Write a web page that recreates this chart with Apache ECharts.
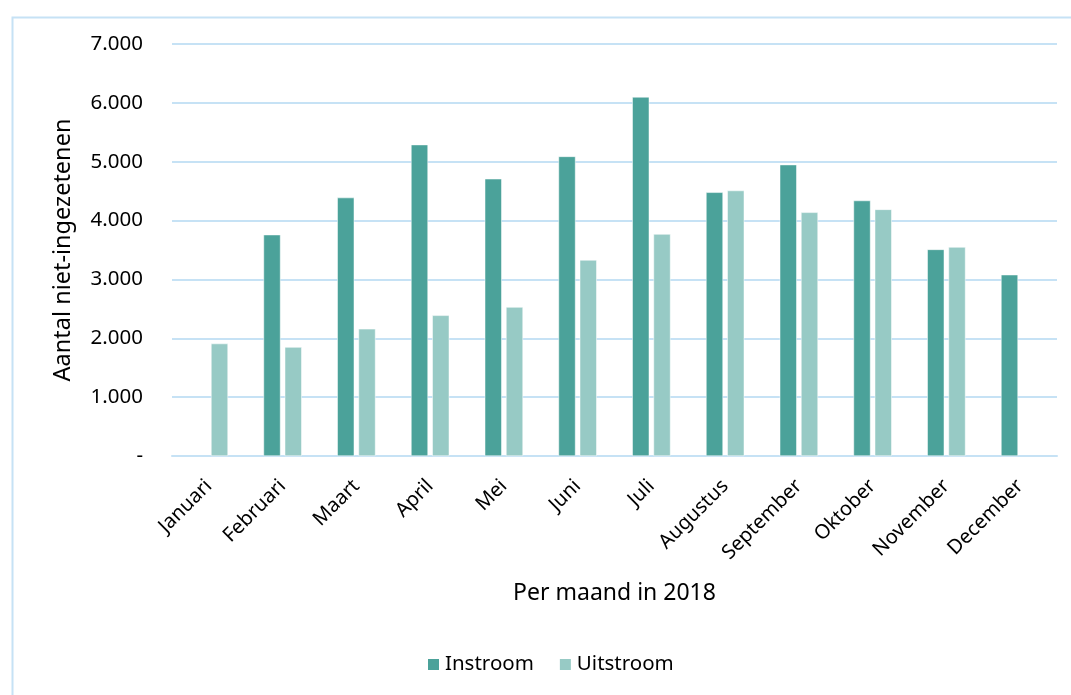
<!DOCTYPE html>
<html>
<head>
<meta charset="utf-8">
<title>Instroom en uitstroom per maand</title>
<script src="https://cdn.jsdelivr.net/npm/echarts@6/dist/echarts.min.js"></script>
<style>
html, body { margin:0; padding:0; background:#fff; }
#main { width:1071px; height:695px; }
</style>
</head>
<body>
<div id="main"></div>
<script type="text/javascript">
// maanden
var months = ['Januari','Februari','Maart','April','Mei','Juni','Juli','Augustus','September','Oktober','November','December'];
var instroom = [null, 3760, 4390, 5290, 4710, 5090, 6100, 4480, 4950, 4340, 3510, 3080];
var uitstroom = [1910, 1850, 2160, 2390, 2530, 3330, 3770, 4510, 4140, 4190, 3550, null];

var gridColor = '#c6e2f5';
var font = 'Noto Sans';

function fmt(v) {
	if (v == 0) return '-';
	var s = String(v);
	return s.replace(/\B(?=(\d{3})+(?!\d))/g, '.');
}

var myChart = echarts.init(document.getElementById('main'));
var option = {
	animation: false,
	color: ['#4ba29a', '#97cac5'],
	textStyle: { fontFamily: font, color: '#000' },
	graphic: [{
		type: 'rect',
		left: 10, top: 15,
		shape: { width: 1100, height: 720 },
		style: { fill: 'none', stroke: gridColor, lineWidth: 2 }
	}],
	grid: { left: 172, right: 14, top: 44, bottom: 239 },
	legend: {
		bottom: 15,
		left: 421,
		itemWidth: 13, itemHeight: 13, itemGap: 24,
		icon: 'rect',
		textStyle: { fontFamily: font, fontSize: 20.5, color: '#000' },
		data: ['Instroom', 'Uitstroom']
	},
	xAxis: {
		type: 'category',
		data: months,
		name: 'Per maand in 2018',
		nameLocation: 'middle',
		nameGap: 126,
		nameTextStyle: { fontFamily: font, fontSize: 23, color: '#000' },
		axisLine: { show: true, lineStyle: { color: gridColor, width: 2 } },
		axisTick: { show: false },
		axisLabel: { rotate: 45, margin: 27, fontSize: 20, color: '#000', interval: 0 }
	},
	yAxis: {
		type: 'value',
		min: 0, max: 7000, interval: 1000,
		name: 'Aantal niet-ingezetenen',
		nameLocation: 'middle',
		nameGap: 97,
		nameTextStyle: { fontFamily: font, fontSize: 23.5, color: '#000' },
		axisLine: { show: false },
		axisTick: { show: false },
		splitLine: { lineStyle: { color: gridColor, width: 2 } },
		axisLabel: { margin: 29, fontSize: 20.5, color: '#000', formatter: fmt }
	},
	series: [
		{
			name: 'Instroom', type: 'bar', data: instroom,
			barWidth: 17, barGap: '25%',
			itemStyle: { borderColor: '#ffffff', borderWidth: 0.5 }
		},
		{
			name: 'Uitstroom', type: 'bar', data: uitstroom,
			barWidth: 17, barGap: '25%',
			itemStyle: { borderColor: '#ffffff', borderWidth: 0.5 }
		}
	]
};
myChart.setOption(option);
</script>
</body>
</html>
